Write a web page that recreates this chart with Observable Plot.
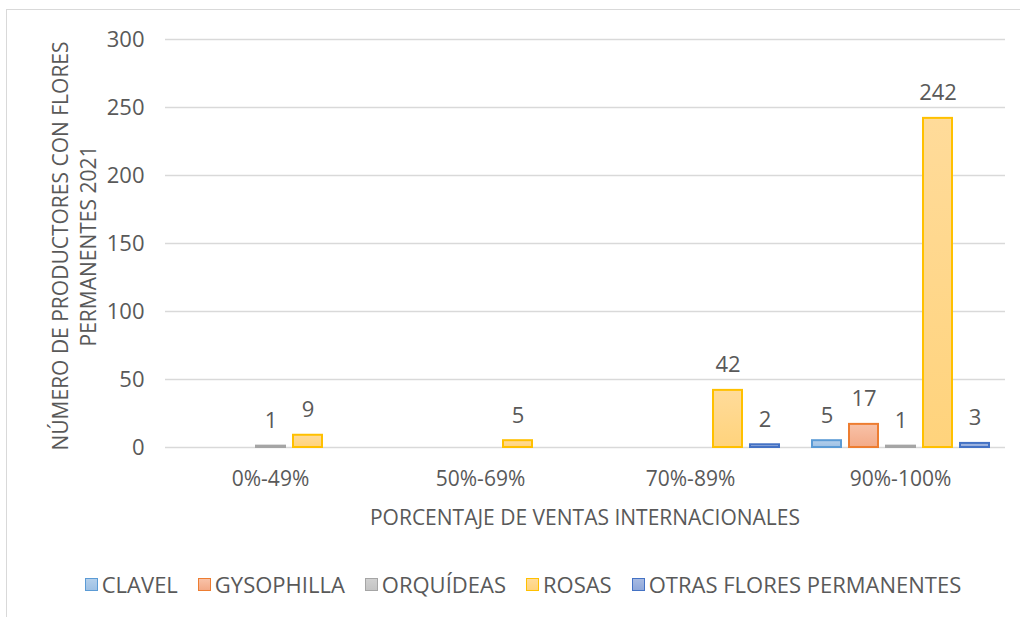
<!DOCTYPE html>
<html><head><meta charset="utf-8">
<script src="https://cdn.jsdelivr.net/npm/d3@7"></script>
<script src="https://cdn.jsdelivr.net/npm/@observablehq/plot@0.6"></script>
<style>
body{margin:0;background:#fff;font-family:"Open Sans",sans-serif;}
#wrap{position:relative;width:1020px;height:617px;overflow:hidden;}
#frame{position:absolute;left:6px;top:9px;width:1100px;height:700px;border:1.5px solid #d9d9d9;box-sizing:border-box;}
#chart{position:absolute;left:0;top:0;}
#legend{position:absolute;top:568px;left:0;width:1046px;display:flex;justify-content:center;gap:20px;font-size:22px;color:#595959;line-height:32px;}
#legend .it{display:flex;align-items:center;gap:4px;}
#legend .sw{width:11px;height:11px;border:1.5px solid;}
</style></head>
<body>
<div id="wrap"><div id="frame"></div><div id="chart"></div><div id="legend"></div></div>
<script>
const categories = ["0%-49%", "50%-69%", "70%-89%", "90%-100%"];
const series = ["CLAVEL", "GYSOPHILLA", "ORQUÍDEAS", "ROSAS", "OTRAS FLORES PERMANENTES"];
const clavel = [null, null, null, 5];
const gysophilla = [null, null, null, 17];
const orquideas = [1, null, null, 1];
const rosas = [9, 5, 42, 242];
const otras = [null, null, 2, 3];
const yTicks = [0, 50, 100, 150, 200, 250, 300];
const yTitle = ["NÚMERO DE PRODUCTORES CON FLORES", "PERMANENTES 2021"];
const xTitle = "PORCENTAJE DE VENTAS INTERNACIONALES";

const borders = ["#5B9BD5", "#ED7D31", "#A5A5A5", "#FFC000", "#4472C4"];
const gradTop = ["#b3cfeb", "#f8c2a8", "#d0d0d0", "#ffdb9a", "#a7bae2"];
const gradBot = ["#9ec1e5", "#f3aa88", "#c4c4c4", "#ffd37c", "#8fa8da"];

const seriesValues = [clavel, gysophilla, orquideas, rosas, otras];
const data = [];
categories.forEach((c, i) => seriesValues.forEach((vals, j) => {
  if (vals[i] != null) data.push({cat: c, serie: series[j], value: vals[i]});
}));

const font = "Open Sans";
const chart = Plot.plot({
  width: 1020, height: 560,
  marginLeft: 165, marginRight: 15, marginTop: 39, marginBottom: 113,
  style: {fontFamily: font, fontSize: "22px", color: "#595959", background: "transparent", overflow: "visible"},
  fx: {domain: categories, padding: 0, label: null, axis: null},
  x: {domain: series, paddingInner: 0.17, paddingOuter: 0.39, axis: null},
  y: {domain: [0, 300], ticks: yTicks, tickSize: 0, tickPadding: 21, label: null},
  color: {domain: series, range: series.map((s, j) => `url(#grad${j})`)},
  marks: [
    Plot.ruleY(yTicks, {stroke: "#d9d9d9", strokeWidth: 1.3}),
    ...series.map((s, j) => Plot.barY(data.filter(d => d.serie === s), {
      fx: "cat", x: "serie", y: "value", fill: "serie",
      stroke: borders[j], strokeWidth: 2, insetLeft: 1, insetRight: 1
    })),
    Plot.text(data, {fx: "cat", x: "serie", y: "value", text: "value", dy: -25, fill: "#595959", fontSize: 22}),
    Plot.axisFx({domain: categories, anchor: "bottom", tickSize: 0, tickPadding: 24, fontSize: 21, label: null})
  ]
});

const svg = d3.select(chart);
const defs = svg.insert("defs", ":first-child");
series.forEach((s, j) => {
  const g = defs.append("linearGradient").attr("id", `grad${j}`).attr("x1", 0).attr("y1", 0).attr("x2", 0).attr("y2", 1);
  g.append("stop").attr("offset", "0%").attr("stop-color", gradTop[j]);
  g.append("stop").attr("offset", "100%").attr("stop-color", gradBot[j]);
});
yTitle.forEach((t, i) => {
  svg.append("text").attr("transform", `translate(${60 + i * 28},246) rotate(-90)`)
    .attr("text-anchor", "middle").attr("dominant-baseline", "central")
    .attr("fill", "#595959").attr("font-size", 21).attr("font-family", font).text(t);
});
svg.append("text").attr("x", 585).attr("y", 517)
  .attr("text-anchor", "middle").attr("dominant-baseline", "central")
  .attr("fill", "#595959").attr("font-size", 21).attr("font-family", font).text(xTitle);

document.getElementById("chart").appendChild(chart);

const legend = d3.select("#legend");
series.forEach((s, j) => {
  const it = legend.append("div").attr("class", "it");
  it.append("div").attr("class", "sw")
    .style("border-color", borders[j])
    .style("background", `linear-gradient(${gradTop[j]}, ${gradBot[j]})`);
  it.append("span").text(s);
});
</script>
</body></html>
